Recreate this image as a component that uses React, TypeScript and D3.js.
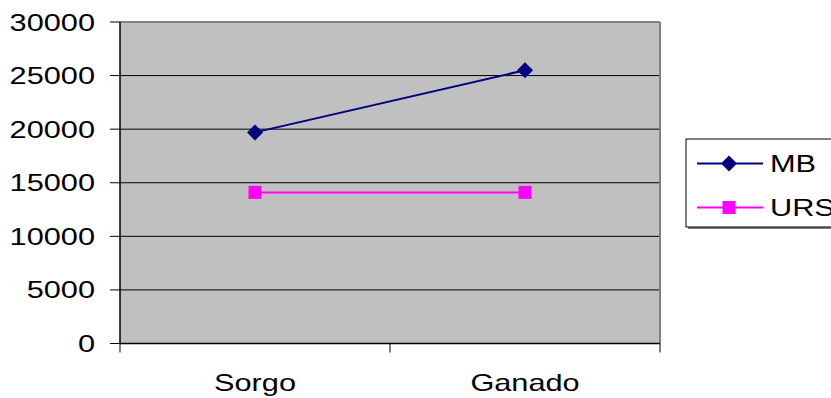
import React from "react";
import * as d3 from "d3";

const categories = ["Sorgo", "Ganado"];
const seriesNames = ["MB", "URS"];
const mbValues = [19700, 25500];
const ursValues = [14100, 14100];
const yTicks = [0, 5000, 10000, 15000, 20000, 25000, 30000];

const W = 831;
const H = 398;
const plot = { left: 120, right: 660, top: 22, bottom: 343.5 };
const FONT = "'Liberation Sans', Arial, sans-serif";
const SX = 1.28;

export default function App() {
  const x = d3.scaleBand<string>().domain(categories).range([plot.left, plot.right]);
  const y = d3.scaleLinear().domain([0, 30000]).range([plot.bottom, plot.top]);
  const line = d3
    .line<number>()
    .x((_, i) => (x(categories[i]) as number) + x.bandwidth() / 2)
    .y((d) => y(d));

  const series = [
    { name: seriesNames[0], values: mbValues, color: "#000080", marker: "diamond" },
    { name: seriesNames[1], values: ursValues, color: "#FF00FF", marker: "square" },
  ];

  const marker = (kind: string, cx: number, cy: number, color: string, key: string) =>
    kind === "diamond" ? (
      <path key={key} d={`M${cx},${cy - 8}L${cx + 8},${cy}L${cx},${cy + 8}L${cx - 8},${cy}Z`} fill={color} />
    ) : (
      <rect key={key} x={cx - 6.5} y={cy - 6.5} width={13} height={13} fill={color} />
    );

  const xTickPositions = [plot.left, ...categories.map((c) => (x(c) as number) + x.bandwidth())];

  return (
    <svg width={W} height={H} style={{ position: "absolute", left: 0, top: 0 }} fontFamily={FONT}>
      <rect width={W} height={H} fill="#fff" />
      <rect
        x={plot.left}
        y={plot.top}
        width={plot.right - plot.left}
        height={plot.bottom - plot.top}
        fill="#C0C0C0"
      />
      {yTicks.map((t) => (
        <g key={t}>
          {t > 0 && t < 30000 && (
            <line x1={plot.left} x2={plot.right} y1={y(t)} y2={y(t)} stroke="#000" strokeWidth={1} />
          )}
          <line x1={110} x2={plot.left} y1={y(t)} y2={y(t)} stroke="#000" strokeWidth={1} />
          <text
            transform={`translate(95,${y(t) + 8.5}) scale(${SX},1)`}
            textAnchor="end"
            fontSize={24}
            fill="#000"
          >
            {t}
          </text>
        </g>
      ))}
      {/* plot border top/right gray */}
      <line x1={plot.left} x2={plot.right} y1={plot.top} y2={plot.top} stroke="#808080" strokeWidth={2} />
      <line x1={plot.right} x2={plot.right} y1={plot.top} y2={plot.bottom} stroke="#808080" strokeWidth={2} />
      {/* axes */}
      <line x1={plot.left} x2={plot.left} y1={plot.top} y2={plot.bottom} stroke="#000" strokeWidth={1.5} />
      <line x1={plot.left} x2={plot.right} y1={plot.bottom} y2={plot.bottom} stroke="#000" strokeWidth={1.5} />
      {xTickPositions.map((p, i) => (
        <line key={i} x1={p} x2={p} y1={plot.bottom} y2={plot.bottom + 9} stroke="#000" strokeWidth={1} />
      ))}
      {categories.map((c) => (
        <text
          key={c}
          transform={`translate(${(x(c) as number) + x.bandwidth() / 2},391) scale(${SX},1)`}
          textAnchor="middle"
          fontSize={24}
          fill="#000"
        >
          {c}
        </text>
      ))}
      {series.map((s) => (
        <g key={s.name}>
          <path d={line(s.values) || ""} fill="none" stroke={s.color} strokeWidth={2} />
          {s.values.map((v, i) =>
            marker(s.marker, (x(categories[i]) as number) + x.bandwidth() / 2, y(v), s.color, s.name + i)
          )}
        </g>
      ))}
      {/* legend */}
      <rect x={688} y={141} width={160} height={88} fill="#808080" />
      <rect x={686} y={139} width={160} height={88} fill="#fff" stroke="#000" strokeWidth={1} />
      {series.map((s, i) => {
        const ly = 163.5 + i * 44;
        return (
          <g key={s.name}>
            <line x1={697} x2={763} y1={ly} y2={ly} stroke={s.color} strokeWidth={2} />
            {marker(s.marker, 729, ly, s.color, "lg" + i)}
            <text transform={`translate(770,${ly + 8.5}) scale(${SX},1)`} fontSize={24} fill="#000">
              {s.name}
            </text>
          </g>
        );
      })}
    </svg>
  );
}
